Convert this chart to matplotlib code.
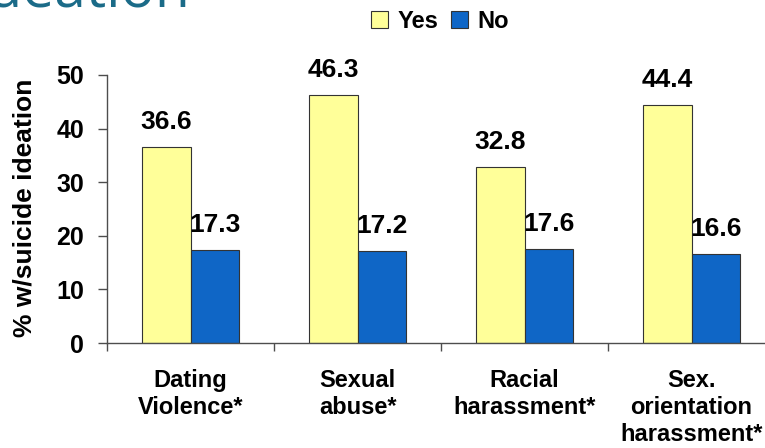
import numpy as np
import matplotlib
matplotlib.use("Agg")
from matplotlib import pyplot as plt
from matplotlib.patches import Patch

categories = ["Dating\nViolence*", "Sexual\nabuse*", "Racial\nharassment*",
              "Sex.\norientation\nharassment*"]
yes_vals = [36.6, 46.3, 32.8, 44.4]
no_vals = [17.3, 17.2, 17.6, 16.6]
yticks = [0, 10, 20, 30, 40, 50]

YELLOW = "#FFFF99"
BLUE = "#0F66C6"
TEAL = "#1B6B88"

plt.rcParams["font.family"] = ["Liberation Sans", "DejaVu Sans"]
plt.rcParams["font.weight"] = "bold"

fig = plt.figure(figsize=(7.65, 4.48), dpi=100)
fig.patch.set_facecolor("white")

# axes run a bit past the right edge of the figure
ax = fig.add_axes([107 / 765, 105 / 448, 668 / 765, 268 / 448])
ax.set_facecolor("none")

x = np.arange(len(categories))
w = 0.29
b1 = ax.bar(x - w / 2, yes_vals, w, color=YELLOW, edgecolor="#333333", linewidth=0.8)
b2 = ax.bar(x + w / 2, no_vals, w, color=BLUE, edgecolor="#333333", linewidth=0.8)

for bars, vals in ((b1, yes_vals), (b2, no_vals)):
    for bar, v in zip(bars, vals):
        ax.annotate(f"{v:.1f}", (bar.get_x() + bar.get_width() / 2, v),
                    xytext=(0, 13), textcoords="offset points",
                    ha="center", va="baseline", fontsize=19, fontweight="bold")

ax.set_xlim(-0.5, len(categories) - 0.5)
ax.set_ylim(0, 50)
ax.set_yticks(yticks)
ax.set_yticklabels([str(t) for t in yticks], fontsize=18, fontweight="bold")

# category ticks sit between groups, labels at the group centres
ax.set_xticks(np.arange(len(categories) + 1) - 0.5)
ax.set_xticklabels([])
ax.set_xticks(x, minor=True)
ax.set_xticklabels(categories, minor=True, fontsize=17, fontweight="bold",
                   linespacing=1.2, va="top")
ax.tick_params(axis="x", which="minor", length=0, pad=19)
ax.tick_params(axis="x", which="major", direction="out", length=6, width=1,
               color="#4d4d4d")
ax.tick_params(axis="y", direction="out", length=6.5, width=1, color="#4d4d4d",
               pad=10)

for side in ("top", "right"):
    ax.spines[side].set_visible(False)
for side in ("left", "bottom"):
    ax.spines[side].set_color("#4d4d4d")
    ax.spines[side].set_linewidth(1)

fig.text(25 / 765, 0.537, "% w/suicide ideation", rotation=90, ha="center",
         va="center", fontsize=19, fontweight="bold")

handles = [Patch(facecolor=YELLOW, edgecolor="#333333", linewidth=0.8),
           Patch(facecolor=BLUE, edgecolor="#333333", linewidth=0.8)]
fig.legend(handles, ["Yes", "No"], loc="center",
           bbox_to_anchor=(440 / 765, 1 - 21 / 448), ncol=2, frameon=False,
           prop={"size": 17, "weight": "bold"}, handlelength=0.75,
           handleheight=0.75, handletextpad=0.4, columnspacing=0.5,
           borderpad=0)

# slide title, mostly above the visible area
fig.text(190 / 765, 440 / 448, "ideation", ha="right", va="baseline",
         fontsize=41, color=TEAL, family=["Open Sans", "DejaVu Sans"],
         fontweight="normal")

fig.savefig("out.png", dpi=100)
